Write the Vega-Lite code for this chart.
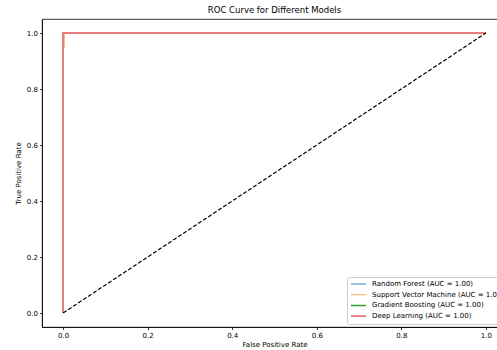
{
  "$schema": "https://vega.github.io/schema/vega-lite/v6.json",
  "autosize": {"type": "none"},
  "width": 465,
  "height": 308,
  "padding": {"left": 42, "top": 19, "right": 0, "bottom": 23},
  "background": "white",
  "title": {"text": "ROC Curve for Different Models", "fontSize": 8.5, "fontWeight": "normal", "font": "DejaVu Sans", "color": "#000", "offset": 5, "anchor": "middle"},
  "config": {
    "font": "DejaVu Sans",
    "view": {"stroke": "#000", "strokeWidth": 0.8},
    "axis": {"grid": false, "labelFontSize": 7, "titleFontSize": 7, "titleFontWeight": "normal", "labelColor": "#000", "titleColor": "#000", "domainColor": "#000", "tickColor": "#000", "tickSize": 2.5, "labelPadding": 2, "domainWidth": 0.8, "tickWidth": 0.8}
  },
  "datasets": {
    "roc": [
      {"model": "Random Forest (AUC = 1.00)", "idx": 0, "fpr": 0, "tpr": 0},
      {"model": "Random Forest (AUC = 1.00)", "idx": 1, "fpr": 0, "tpr": 1},
      {"model": "Random Forest (AUC = 1.00)", "idx": 2, "fpr": 1, "tpr": 1},
      {"model": "Support Vector Machine (AUC = 1.00)", "idx": 0, "fpr": 0, "tpr": 0},
      {"model": "Support Vector Machine (AUC = 1.00)", "idx": 1, "fpr": 0, "tpr": 0.95},
      {"model": "Support Vector Machine (AUC = 1.00)", "idx": 2, "fpr": 0.003, "tpr": 0.95},
      {"model": "Support Vector Machine (AUC = 1.00)", "idx": 3, "fpr": 0.003, "tpr": 1},
      {"model": "Support Vector Machine (AUC = 1.00)", "idx": 4, "fpr": 1, "tpr": 1},
      {"model": "Gradient Boosting (AUC = 1.00)", "idx": 0, "fpr": 0, "tpr": 0},
      {"model": "Gradient Boosting (AUC = 1.00)", "idx": 1, "fpr": 0, "tpr": 1},
      {"model": "Gradient Boosting (AUC = 1.00)", "idx": 2, "fpr": 1, "tpr": 1},
      {"model": "Deep Learning (AUC = 1.00)", "idx": 0, "fpr": 0, "tpr": 0},
      {"model": "Deep Learning (AUC = 1.00)", "idx": 1, "fpr": 0, "tpr": 1},
      {"model": "Deep Learning (AUC = 1.00)", "idx": 2, "fpr": 1, "tpr": 1}
    ],
    "diag": [
      {"fpr": 0, "tpr": 0},
      {"fpr": 1, "tpr": 1}
    ]
  },
  "encoding": {
    "x": {"field": "fpr", "type": "quantitative", "title": "False Positive Rate", "scale": {"domain": [-0.05, 1.05], "nice": false, "zero": false}, "axis": {"values": [0, 0.2, 0.4, 0.6, 0.8, 1.0], "format": ".1f", "titlePadding": 2}},
    "y": {"field": "tpr", "type": "quantitative", "title": "True Positive Rate", "scale": {"domain": [-0.05, 1.05], "nice": false, "zero": false}, "axis": {"values": [0, 0.2, 0.4, 0.6, 0.8, 1.0], "format": ".1f", "titlePadding": 5}}
  },
  "layer": [
    {
      "data": {"name": "roc"},
      "transform": [{"filter": "datum.model == 'Random Forest (AUC = 1.00)'"}],
      "mark": {"type": "line"},
      "encoding": {
        "order": {"field": "idx"},
        "color": {"field": "model", "type": "nominal", "scale": {"domain": ["Random Forest (AUC = 1.00)", "Support Vector Machine (AUC = 1.00)", "Gradient Boosting (AUC = 1.00)", "Deep Learning (AUC = 1.00)"], "range": ["#1f77b4", "#ffb97b", "#2ca02c", "#e67d7e"]},
          "legend": {"title": null, "orient": "none", "legendX": 305, "legendY": 258, "symbolType": "stroke", "symbolSize": 225, "symbolStrokeWidth": 1.4, "labelFontSize": 7, "labelColor": "#000", "rowPadding": 2.7, "clipHeight": 8, "padding": 3, "strokeColor": "#ccc", "fillColor": "white", "cornerRadius": 2, "labelLimit": 400, "labelOffset": 5}},
        "strokeWidth": {"field": "model", "type": "nominal", "legend": null, "scale": {"domain": ["Random Forest (AUC = 1.00)", "Support Vector Machine (AUC = 1.00)", "Gradient Boosting (AUC = 1.00)", "Deep Learning (AUC = 1.00)"], "range": [0.9, 1.8, 0.9, 1.8]}}
      }
    },
    {
      "data": {"name": "roc"},
      "transform": [{"filter": "datum.model == 'Support Vector Machine (AUC = 1.00)'"}],
      "mark": {"type": "line"},
      "encoding": {"order": {"field": "idx"}, "color": {"field": "model", "type": "nominal"}, "strokeWidth": {"field": "model", "type": "nominal", "legend": null}}
    },
    {
      "data": {"name": "roc"},
      "transform": [{"filter": "datum.model == 'Gradient Boosting (AUC = 1.00)'"}],
      "mark": {"type": "line"},
      "encoding": {"order": {"field": "idx"}, "color": {"field": "model", "type": "nominal"}, "strokeWidth": {"field": "model", "type": "nominal", "legend": null}}
    },
    {
      "data": {"name": "roc"},
      "transform": [{"filter": "datum.model == 'Deep Learning (AUC = 1.00)'"}],
      "mark": {"type": "line"},
      "encoding": {"order": {"field": "idx"}, "color": {"field": "model", "type": "nominal"}, "strokeWidth": {"field": "model", "type": "nominal", "legend": null}}
    },
    {
      "data": {"name": "diag"},
      "mark": {"type": "line", "color": "#000", "strokeWidth": 1.2, "strokeDash": [4, 2]},
      "encoding": {}
    }
  ]
}
